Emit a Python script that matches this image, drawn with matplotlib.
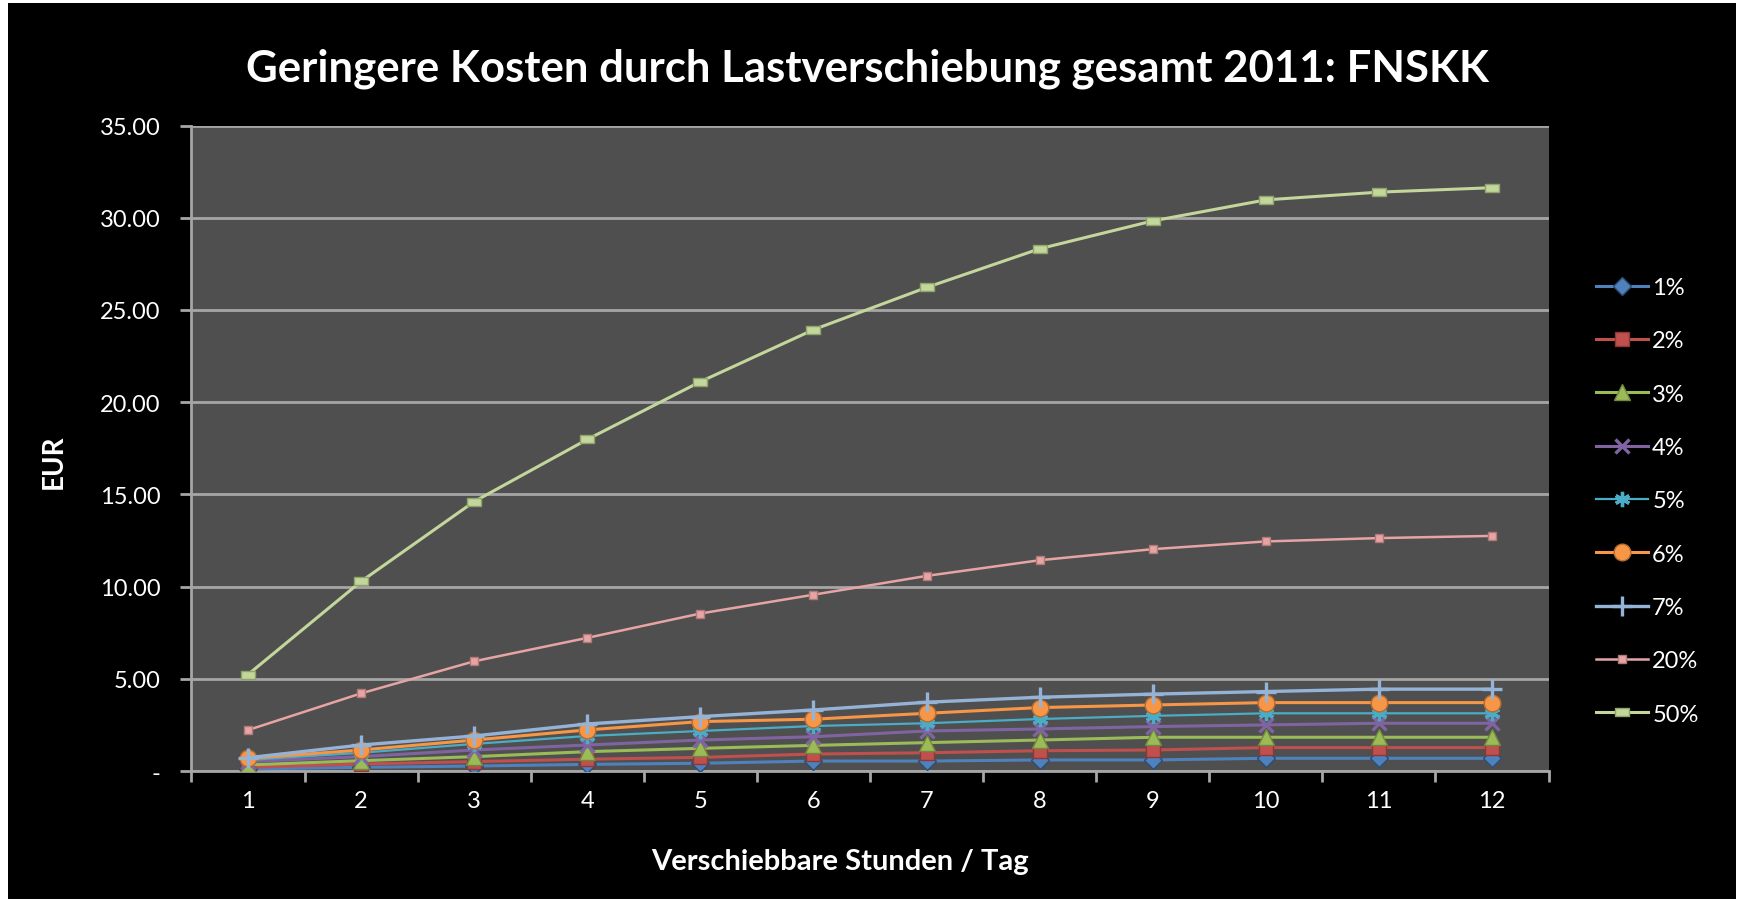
import matplotlib.pyplot as plt
import matplotlib.patches as mpatches
import numpy as np

# Data
hours = [1, 2, 3, 4, 5, 6, 7, 8, 9, 10, 11, 12]
p1 = [0.11, 0.20, 0.27, 0.36, 0.42, 0.54, 0.54, 0.60, 0.60, 0.69, 0.69, 0.69]
p2 = [0.20, 0.38, 0.51, 0.64, 0.74, 0.92, 0.99, 1.10, 1.14, 1.27, 1.27, 1.27]
p3 = [0.33, 0.56, 0.78, 1.05, 1.23, 1.39, 1.54, 1.68, 1.83, 1.83, 1.83, 1.83]
p4 = [0.51, 0.78, 1.14, 1.41, 1.68, 1.86, 2.17, 2.28, 2.41, 2.50, 2.59, 2.59]
p5 = [0.60, 0.99, 1.47, 1.90, 2.17, 2.44, 2.59, 2.82, 2.99, 3.13, 3.13, 3.13]
p6 = [0.68, 1.14, 1.68, 2.23, 2.68, 2.81, 3.13, 3.44, 3.58, 3.71, 3.71, 3.71]
p7 = [0.72, 1.41, 1.90, 2.55, 2.95, 3.31, 3.73, 4.00, 4.17, 4.31, 4.44, 4.44]
p20 = [2.22, 4.21, 5.95, 7.22, 8.54, 9.56, 10.58, 11.43, 12.03, 12.45, 12.63, 12.75]
p50 = [5.23, 10.28, 14.61, 17.98, 21.11, 23.93, 26.22, 28.32, 29.83, 30.97, 31.39, 31.63]

labels = ['1%', '2%', '3%', '4%', '5%', '6%', '7%', '20%', '50%']
series = [p1, p2, p3, p4, p5, p6, p7, p20, p50]

plt.rcParams['font.family'] = ['Lato', 'DejaVu Sans']

# Styles per series: color, edge color, marker, size, line width
rect = [(-1, -0.55), (1, -0.55), (1, 0.55), (-1, 0.55), (-1, -0.55)]
styles = [
    ('#4F81BD', '#2C4D75', 'D', 9, 2.2),
    ('#C0504D', '#8C3836', 's', 10, 2.2),
    ('#9BBB59', '#71893F', '^', 11, 2.2),
    ('#8064A2', '#8064A2', 'x', 10, 2.2),
    ('#4BACC6', '#4BACC6', (6, 2, 0), 11, 1.6),
    ('#F79646', '#B66D31', 'o', 12, 2.2),
    ('#95B3D7', '#95B3D7', '+', 14, 2.4),
    ('#E6A5A4', '#B07978', 's', 6, 1.8),
    ('#C3D69B', '#8FA36A', rect, 10, 2.2),
]

fig = plt.figure(figsize=(17.4, 9.04), dpi=100, facecolor='white')
# black chart background with thin white margin
fig.patches.append(mpatches.Rectangle((8 / 1740, 4 / 904), 1728 / 1740, 896 / 904,
                                      transform=fig.transFigure, facecolor='black',
                                      edgecolor='none', zorder=-10))

ax = fig.add_axes([0.110, 0.146, 0.780, 0.714])
ax.set_facecolor('#4F4F4F')

for vals, lab, (c, ec, m, ms, lw) in zip(series, labels, styles):
    mew = 2.4 if m in ('x', '+', (6, 2, 0)) else 1.0
    ax.plot(hours, vals, color=c, linewidth=lw, marker=m, markersize=ms,
            markerfacecolor=c, markeredgecolor=ec, markeredgewidth=mew,
            label=lab, zorder=3)

# Axes limits and ticks
ax.set_xlim(0.5, 12.5)
ax.set_ylim(0, 35)
ax.set_yticks(np.arange(0, 36, 5))
ax.set_yticklabels(['-' if v == 0 else f'{v:.2f}' for v in np.arange(0, 36, 5)])
ax.set_xticks(np.arange(0.5, 12.6, 1))
ax.set_xticklabels([])
ax.set_xticks(hours, minor=True)
ax.set_xticklabels([str(h) for h in hours], minor=True)
ax.tick_params(axis='x', which='minor', length=0, pad=14, labelsize=17, labelcolor='white')
ax.tick_params(axis='x', which='major', length=8, width=2, color='#A6A6A6')
ax.tick_params(axis='y', length=8, width=2, color='#A6A6A6', pad=14,
               labelsize=17, labelcolor='white')

ax.grid(axis='y', color='#A6A6A6', linewidth=2, zorder=1)
ax.set_axisbelow(True)
for s in ['top', 'right']:
    ax.spines[s].set_visible(False)
for s in ['left', 'bottom']:
    ax.spines[s].set_color('#A6A6A6')
    ax.spines[s].set_linewidth(2)

# Titles and labels
fig.text(0.4985, 0.924, 'Geringere Kosten durch Lastverschiebung gesamt 2011: FNSKK',
         ha='center', va='center', color='white', fontsize=31.5, fontweight='bold')
fig.text(0.483, 0.046, 'Verschiebbare Stunden / Tag', ha='center', va='center',
         color='white', fontsize=21, fontweight='bold')
fig.text(0.031, 0.489, 'EUR', ha='center', va='center', rotation=90,
         color='white', fontsize=20, fontweight='bold')

# Legend
leg = ax.legend(loc='center left', bbox_to_anchor=(0.917, 0.445),
                bbox_transform=fig.transFigure, frameon=False, fontsize=17,
                labelcolor='white', handlelength=2.2, handletextpad=0.2,
                labelspacing=1.37, borderpad=0, borderaxespad=0)

plt.savefig('out.png', dpi=100, facecolor='white')
